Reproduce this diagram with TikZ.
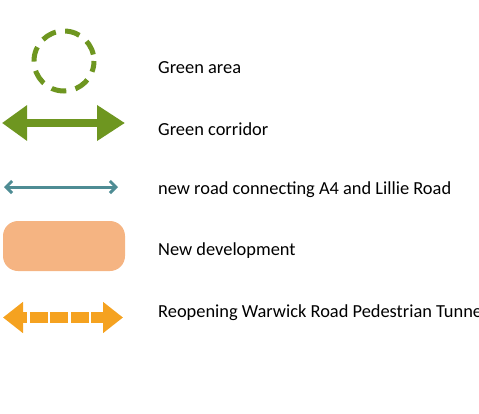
\documentclass[tikz,border=0pt]{standalone}
\usepackage{fontspec}
\setmainfont{Carlito}
\usepackage{xcolor}
\usetikzlibrary{arrows.meta}
\definecolor{greenlegend}{RGB}{110,150,32}
\definecolor{tealroad}{RGB}{78,140,148}
\definecolor{devorange}{RGB}{245,180,130}
\definecolor{tunnelorange}{RGB}{245,162,32}
\tikzset{
  legendtext/.style={anchor=west, inner sep=0pt, font=\fontsize{18.4}{21}\selectfont},
}
\begin{document}
\begin{tikzpicture}[x=1pt,y=-1pt]
        \useasboundingbox (0,0) rectangle (479,413);
        \clip (0,0) rectangle (479,413);

        \draw[greenlegend, line width=5, dash pattern=on 15 off 9.4, dash phase=4] (64,61) circle (30);
        \node[legendtext] (area) at (158,68) {Green area};

        \coordinate (corrL) at (2,123);
        \coordinate (corrR) at (125,123);
        \draw[greenlegend, line width=8, {Triangle[length=25,width=34]}-{Triangle[length=28,width=34]}] (corrL) -- (corrR);
        \node[legendtext] (corridor) at (158,129) {Green corridor};

        \coordinate (roadL) at (4,187);
        \coordinate (roadR) at (118,187);
        \draw[tealroad, line width=3, {Straight Barb[length=6,width=12]}-{Straight Barb[length=6,width=12]}] (roadL) -- (roadR);
        \node[legendtext] (road) at (158,190) {new road connecting A4 and Lillie Road};

        \fill[devorange, rounded corners=15] (3,221) rectangle (125,271);
        \node[legendtext] (dev) at (158,251) {New development};

        \coordinate (tunL) at (3,317.5);
        \coordinate (tunR) at (123,317.5);
        \draw[tunnelorange, line width=11.5, dash pattern=on 18 off 2.5, dash phase=12.5, {Triangle[length=20,width=30]}-{Triangle[length=20,width=30]}] (tunL) -- (tunR);
        \node[legendtext] (tunnel) at (158,313) {Reopening Warwick Road Pedestrian Tunnel};
    \end{tikzpicture}
\end{document}
